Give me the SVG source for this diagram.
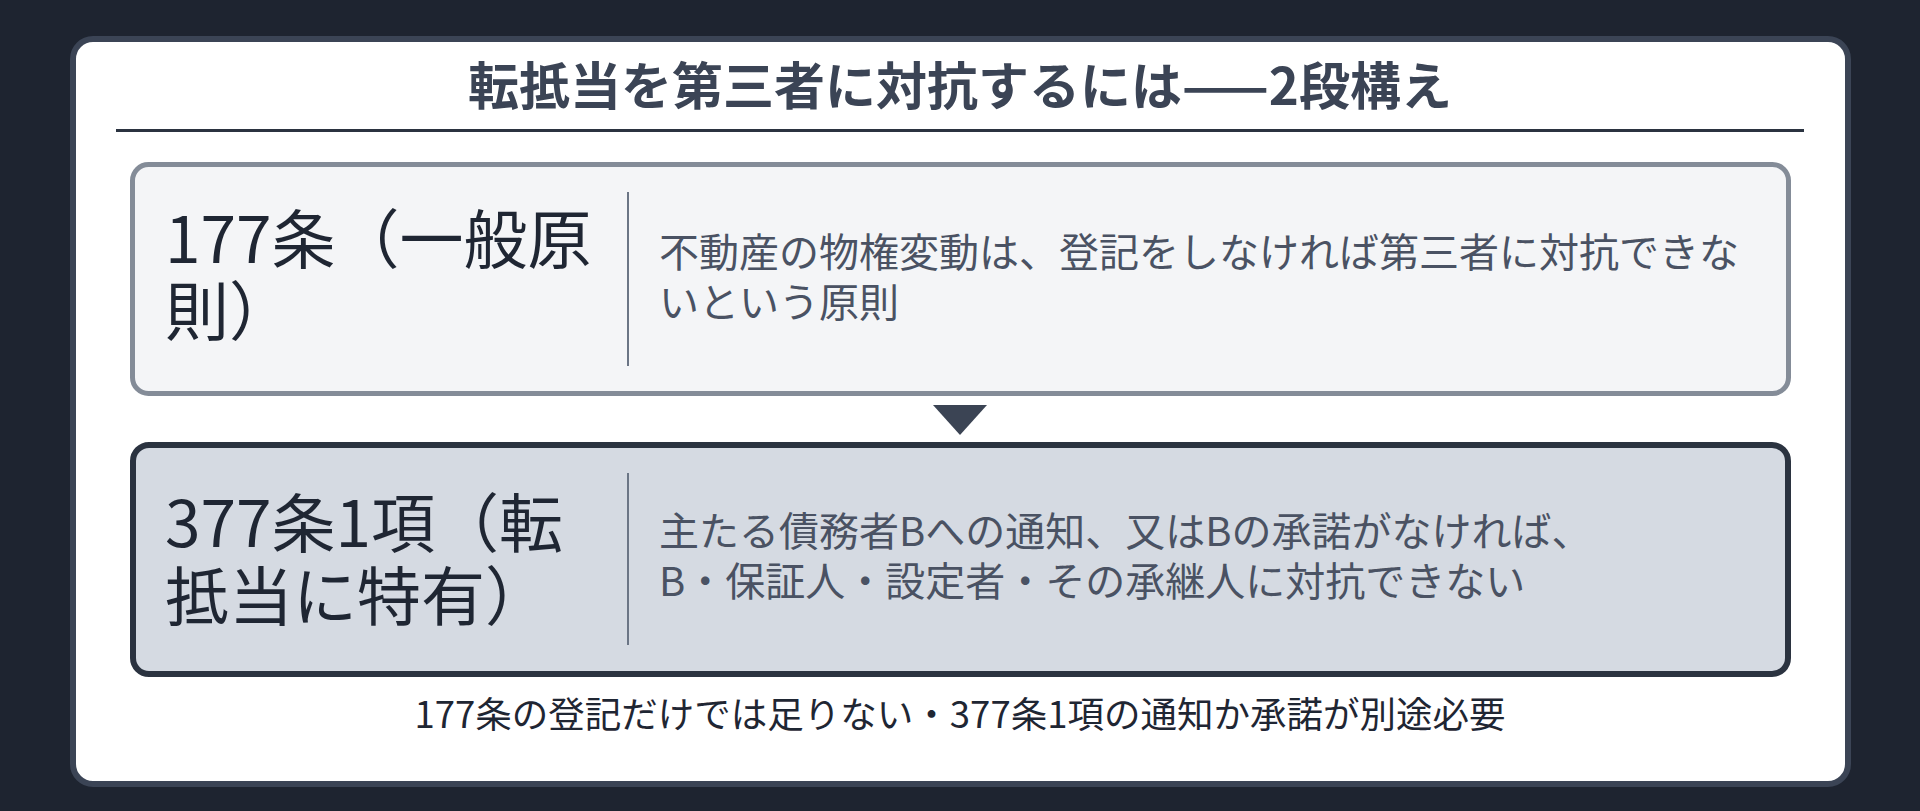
<svg xmlns="http://www.w3.org/2000/svg" width="1920" height="811" viewBox="0 0 1920 811">
<style>
text { font-family: "Noto Sans CJK JP", "Noto Sans", sans-serif; }
.title { font-size: 51px; font-weight: 700; fill: #3b4455; }
.label { font-size: 64px; fill: #1f2633; }
.desc { font-size: 40px; fill: #4a5263; }
.foot { font-size: 36.5px; fill: #1f2633; }
.div { stroke: #6b7585; stroke-width: 2; }
</style>
<rect x="0" y="0" width="1920" height="811" fill="#1e2430"/>
<rect x="73" y="39" width="1775" height="745" rx="20" fill="#ffffff" stroke="#3b4455" stroke-width="6"/>
<g id="title">
<text class="title" x="960" y="105" text-anchor="middle">転抵当を第三者に対抗するには——2段構え</text>
<line x1="116" y1="130.5" x2="1804" y2="130.5" stroke="#2b3340" stroke-width="3"/>
</g>
<g id="node-177">
<rect x="132.5" y="164.5" width="1656" height="229" rx="16" fill="#f4f5f7" stroke="#848c98" stroke-width="5"/>
<text class="label" x="165" y="263">177条（一般原</text>
<text class="label" x="165" y="335">則）</text>
<line class="div" x1="628" y1="192" x2="628" y2="366"/>
<text class="desc" x="659" y="267">不動産の物権変動は、登記をしなければ第三者に対抗できな</text>
<text class="desc" x="659" y="317">いという原則</text>
</g>
<g id="connectors">
<polygon points="933,405 987,405 960,435" fill="#3b4454"/>
</g>
<g id="node-377">
<rect x="133" y="445" width="1655" height="229" rx="16" fill="#d5dae2" stroke="#2b3340" stroke-width="6"/>
<text class="label" x="165" y="547">377条1項（転</text>
<text class="label" x="165" y="620">抵当に特有）</text>
<line class="div" x1="628" y1="473" x2="628" y2="645"/>
<text class="desc" x="659" y="546">主たる債務者Bへの通知、又はBの承諾がなければ、</text>
<text class="desc" x="659" y="596">B・保証人・設定者・その承継人に対抗できない</text>
</g>
<g id="footer">
<text class="foot" x="960" y="728" text-anchor="middle">177条の登記だけでは足りない・377条1項の通知か承諾が別途必要</text>
</g>
</svg>
